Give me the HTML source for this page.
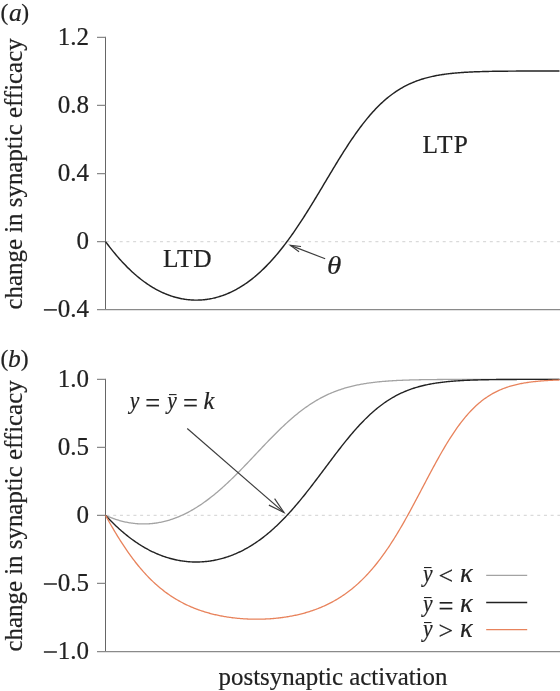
<!DOCTYPE html>
<html><head><meta charset="utf-8"><title>fig</title>
<style>
html,body{margin:0;padding:0;background:#fff;}
svg{display:block;}
text{font-family:"Liberation Serif",serif;fill:#222;stroke:#222;stroke-width:0.2px;}
.it{font-style:italic;}
</style></head><body>
<svg width="560" height="691" viewBox="0 0 560 691" style="will-change:transform">
<rect width="560" height="691" fill="#fff"/>
<!-- panel a -->
<path d="M105.5,36.8 V309.5" fill="none" stroke="#666" stroke-width="1"/>
<g fill="none" stroke="#8a8a8a" stroke-width="1.25">
<path d="M97,309.5 H560"/>
<path d="M97,37.3 H105.5 M97,105.4 H105.5 M97,173.5 H105.5 M97,241.6 H105.5"/>
</g>
<path d="M106.2,241.6 H560" stroke="#dadada" stroke-width="1.2" stroke-dasharray="3,3.73" fill="none"/>
<path d="M105.5,241.60 L106.5,242.94 L107.5,244.26 L108.5,245.56 L109.5,246.86 L110.5,248.13 L111.5,249.39 L112.5,250.64 L113.5,251.87 L114.5,253.08 L115.5,254.28 L116.5,255.46 L117.5,256.62 L118.5,257.77 L119.5,258.91 L120.5,260.02 L121.5,261.12 L122.5,262.21 L123.5,263.28 L124.5,264.33 L125.5,265.36 L126.5,266.38 L127.5,267.39 L128.5,268.37 L129.5,269.34 L130.5,270.30 L131.5,271.24 L132.5,272.16 L133.5,273.07 L134.5,273.95 L135.5,274.83 L136.5,275.69 L137.5,276.53 L138.5,277.35 L139.5,278.16 L140.5,278.96 L141.5,279.74 L142.5,280.50 L143.5,281.25 L144.5,281.98 L145.5,282.69 L146.5,283.39 L147.5,284.08 L148.5,284.75 L149.5,285.40 L150.5,286.04 L151.5,286.66 L152.5,287.27 L153.5,287.87 L154.5,288.45 L155.5,289.01 L156.5,289.56 L157.5,290.10 L158.5,290.62 L159.5,291.12 L160.5,291.61 L161.5,292.09 L162.5,292.55 L163.5,293.00 L164.5,293.43 L165.5,293.85 L166.5,294.26 L167.5,294.65 L168.5,295.03 L169.5,295.39 L170.5,295.74 L171.5,296.08 L172.5,296.40 L173.5,296.71 L174.5,297.00 L175.5,297.29 L176.5,297.55 L177.5,297.81 L178.5,298.05 L179.5,298.28 L180.5,298.49 L181.5,298.69 L182.5,298.88 L183.5,299.05 L184.5,299.21 L185.5,299.36 L186.5,299.50 L187.5,299.62 L188.5,299.72 L189.5,299.82 L190.5,299.90 L191.5,299.97 L192.5,300.03 L193.5,300.07 L194.5,300.10 L195.5,300.11 L196.5,300.12 L197.5,300.11 L198.5,300.08 L199.5,300.05 L200.5,300.00 L201.5,299.94 L202.5,299.86 L203.5,299.77 L204.5,299.67 L205.5,299.56 L206.5,299.43 L207.5,299.29 L208.5,299.13 L209.5,298.97 L210.5,298.79 L211.5,298.59 L212.5,298.39 L213.5,298.16 L214.5,297.93 L215.5,297.68 L216.5,297.42 L217.5,297.15 L218.5,296.86 L219.5,296.56 L220.5,296.24 L221.5,295.91 L222.5,295.57 L223.5,295.21 L224.5,294.84 L225.5,294.46 L226.5,294.06 L227.5,293.65 L228.5,293.22 L229.5,292.78 L230.5,292.32 L231.5,291.85 L232.5,291.37 L233.5,290.87 L234.5,290.36 L235.5,289.83 L236.5,289.29 L237.5,288.73 L238.5,288.16 L239.5,287.57 L240.5,286.97 L241.5,286.35 L242.5,285.72 L243.5,285.08 L244.5,284.41 L245.5,283.74 L246.5,283.04 L247.5,282.34 L248.5,281.61 L249.5,280.87 L250.5,280.12 L251.5,279.35 L252.5,278.56 L253.5,277.76 L254.5,276.94 L255.5,276.11 L256.5,275.26 L257.5,274.39 L258.5,273.51 L259.5,272.61 L260.5,271.70 L261.5,270.77 L262.5,269.82 L263.5,268.86 L264.5,267.88 L265.5,266.89 L266.5,265.88 L267.5,264.85 L268.5,263.80 L269.5,262.74 L270.5,261.67 L271.5,260.58 L272.5,259.47 L273.5,258.34 L274.5,257.20 L275.5,256.04 L276.5,254.87 L277.5,253.68 L278.5,252.48 L279.5,251.25 L280.5,250.02 L281.5,248.76 L282.5,247.50 L283.5,246.21 L284.5,244.91 L285.5,243.60 L286.5,242.27 L287.5,240.93 L288.5,239.57 L289.5,238.19 L290.5,236.81 L291.5,235.40 L292.5,233.99 L293.5,232.56 L294.5,231.12 L295.5,229.66 L296.5,228.19 L297.5,226.71 L298.5,225.21 L299.5,223.71 L300.5,222.19 L301.5,220.66 L302.5,219.12 L303.5,217.57 L304.5,216.00 L305.5,214.43 L306.5,212.85 L307.5,211.26 L308.5,209.66 L309.5,208.05 L310.5,206.43 L311.5,204.81 L312.5,203.18 L313.5,201.54 L314.5,199.90 L315.5,198.25 L316.5,196.59 L317.5,194.93 L318.5,193.27 L319.5,191.60 L320.5,189.93 L321.5,188.26 L322.5,186.59 L323.5,184.91 L324.5,183.23 L325.5,181.56 L326.5,179.88 L327.5,178.20 L328.5,176.53 L329.5,174.86 L330.5,173.19 L331.5,171.52 L332.5,169.86 L333.5,168.20 L334.5,166.54 L335.5,164.89 L336.5,163.25 L337.5,161.62 L338.5,159.99 L339.5,158.37 L340.5,156.75 L341.5,155.15 L342.5,153.56 L343.5,151.97 L344.5,150.40 L345.5,148.84 L346.5,147.28 L347.5,145.75 L348.5,144.22 L349.5,142.71 L350.5,141.21 L351.5,139.72 L352.5,138.25 L353.5,136.79 L354.5,135.35 L355.5,133.92 L356.5,132.51 L357.5,131.11 L358.5,129.74 L359.5,128.37 L360.5,127.03 L361.5,125.70 L362.5,124.39 L363.5,123.10 L364.5,121.83 L365.5,120.58 L366.5,119.34 L367.5,118.12 L368.5,116.92 L369.5,115.75 L370.5,114.59 L371.5,113.44 L372.5,112.32 L373.5,111.22 L374.5,110.14 L375.5,109.08 L376.5,108.03 L377.5,107.01 L378.5,106.01 L379.5,105.02 L380.5,104.06 L381.5,103.11 L382.5,102.19 L383.5,101.28 L384.5,100.39 L385.5,99.52 L386.5,98.67 L387.5,97.84 L388.5,97.03 L389.5,96.24 L390.5,95.46 L391.5,94.71 L392.5,93.97 L393.5,93.25 L394.5,92.54 L395.5,91.86 L396.5,91.19 L397.5,90.54 L398.5,89.90 L399.5,89.28 L400.5,88.68 L401.5,88.09 L402.5,87.52 L403.5,86.97 L404.5,86.43 L405.5,85.90 L406.5,85.39 L407.5,84.89 L408.5,84.41 L409.5,83.94 L410.5,83.49 L411.5,83.05 L412.5,82.62 L413.5,82.21 L414.5,81.80 L415.5,81.41 L416.5,81.03 L417.5,80.67 L418.5,80.31 L419.5,79.97 L420.5,79.64 L421.5,79.31 L422.5,79.00 L423.5,78.70 L424.5,78.41 L425.5,78.12 L426.5,77.85 L427.5,77.59 L428.5,77.33 L429.5,77.09 L430.5,76.85 L431.5,76.62 L432.5,76.40 L433.5,76.18 L434.5,75.98 L435.5,75.78 L436.5,75.58 L437.5,75.40 L438.5,75.22 L439.5,75.05 L440.5,74.88 L441.5,74.72 L442.5,74.57 L443.5,74.42 L444.5,74.28 L445.5,74.14 L446.5,74.01 L447.5,73.88 L448.5,73.76 L449.5,73.64 L450.5,73.53 L451.5,73.42 L452.5,73.32 L453.5,73.22 L454.5,73.12 L455.5,73.03 L456.5,72.94 L457.5,72.85 L458.5,72.77 L459.5,72.69 L460.5,72.62 L461.5,72.54 L462.5,72.47 L463.5,72.41 L464.5,72.34 L465.5,72.28 L466.5,72.23 L467.5,72.17 L468.5,72.12 L469.5,72.06 L470.5,72.01 L471.5,71.97 L472.5,71.92 L473.5,71.88 L474.5,71.84 L475.5,71.80 L476.5,71.76 L477.5,71.72 L478.5,71.69 L479.5,71.66 L480.5,71.63 L481.5,71.60 L482.5,71.57 L483.5,71.54 L484.5,71.51 L485.5,71.49 L486.5,71.46 L487.5,71.44 L488.5,71.42 L489.5,71.40 L490.5,71.38 L491.5,71.36 L492.5,71.34 L493.5,71.32 L494.5,71.31 L495.5,71.29 L496.5,71.28 L497.5,71.26 L498.5,71.25 L499.5,71.24 L500.5,71.23 L501.5,71.21 L502.5,71.20 L503.5,71.19 L504.5,71.18 L505.5,71.17 L506.5,71.16 L507.5,71.16 L508.5,71.15 L509.5,71.14 L510.5,71.13 L511.5,71.12 L512.5,71.12 L513.5,71.11 L514.5,71.11 L515.5,71.10 L516.5,71.09 L517.5,71.09 L518.5,71.08 L519.5,71.08 L520.5,71.08 L521.5,71.07 L522.5,71.07 L523.5,71.06 L524.5,71.06 L525.5,71.06 L526.5,71.05 L527.5,71.05 L528.5,71.05 L529.5,71.05 L530.5,71.04 L531.5,71.04 L532.5,71.04 L533.5,71.04 L534.5,71.03 L535.5,71.03 L536.5,71.03 L537.5,71.03 L538.5,71.03 L539.5,71.03 L540.5,71.02 L541.5,71.02 L542.5,71.02 L543.5,71.02 L544.5,71.02 L545.5,71.02 L546.5,71.02 L547.5,71.02 L548.5,71.01 L549.5,71.01 L550.5,71.01 L551.5,71.01 L552.5,71.01 L553.5,71.01 L554.5,71.01 L555.5,71.01 L556.5,71.01 L557.5,71.01 L558.5,71.01 L559.5,71.01" fill="none" stroke="#222" stroke-width="1.45"/>
<g font-size="25" text-anchor="end">
<text x="89" y="44.8">1.2</text>
<text x="89" y="112.9">0.8</text>
<text x="89" y="181">0.4</text>
<text x="89" y="249.1">0</text>
<text x="89" y="316.8">0.4</text>
</g>
<path d="M43.9,309.9 h13" stroke="#222" stroke-width="1.5"/>
<text x="0.6" y="20.3" font-size="23.5">(</text><text x="8.9" y="21" font-size="25.5" class="it">a</text><text x="21.3" y="20.3" font-size="23.5">)</text>
<text transform="translate(22.4,309.5) rotate(-90)" font-size="24.9">change in synaptic efficacy</text>
<text x="163" y="267" font-size="25.4" letter-spacing="0.8">LTD</text>
<text x="422.5" y="152.9" font-size="25.4" letter-spacing="1.3">LTP</text>
<text x="327" y="273.6" font-size="26" class="it" transform="translate(327 0) scale(1.12 1) translate(-327 0)">θ</text>
<g fill="none" stroke="#3c3c3c" stroke-width="1.15">
<path d="M325.20,258.75 L290.40,245.40"/><path d="M299.06,251.69 L290.40,245.40 L301.04,246.52"/>
</g>
<!-- panel b -->
<path d="M105.5,378.8 V651.5" fill="none" stroke="#666" stroke-width="1"/>
<g fill="none" stroke="#8a8a8a" stroke-width="1.25">
<path d="M97,651.5 H560"/>
<path d="M97,379.3 H105.5 M97,447.3 H105.5 M97,515.35 H105.5 M97,583.4 H105.5"/>
</g>
<path d="M106.5,515.35 H560" stroke="#dadada" stroke-width="1.2" stroke-dasharray="3,3.73" fill="none"/>
<path d="M105.5,515.35 L106.5,515.80 L107.5,516.23 L108.5,516.65 L109.5,517.06 L110.5,517.46 L111.5,517.85 L112.5,518.22 L113.5,518.59 L114.5,518.94 L115.5,519.28 L116.5,519.60 L117.5,519.92 L118.5,520.22 L119.5,520.52 L120.5,520.80 L121.5,521.06 L122.5,521.32 L123.5,521.56 L124.5,521.80 L125.5,522.02 L126.5,522.23 L127.5,522.42 L128.5,522.61 L129.5,522.78 L130.5,522.94 L131.5,523.09 L132.5,523.23 L133.5,523.35 L134.5,523.47 L135.5,523.57 L136.5,523.66 L137.5,523.74 L138.5,523.81 L139.5,523.86 L140.5,523.90 L141.5,523.94 L142.5,523.95 L143.5,523.96 L144.5,523.96 L145.5,523.94 L146.5,523.91 L147.5,523.87 L148.5,523.82 L149.5,523.76 L150.5,523.69 L151.5,523.60 L152.5,523.50 L153.5,523.39 L154.5,523.27 L155.5,523.13 L156.5,522.99 L157.5,522.83 L158.5,522.66 L159.5,522.48 L160.5,522.29 L161.5,522.08 L162.5,521.86 L163.5,521.63 L164.5,521.39 L165.5,521.14 L166.5,520.88 L167.5,520.60 L168.5,520.31 L169.5,520.01 L170.5,519.70 L171.5,519.38 L172.5,519.04 L173.5,518.69 L174.5,518.33 L175.5,517.96 L176.5,517.58 L177.5,517.18 L178.5,516.78 L179.5,516.36 L180.5,515.93 L181.5,515.49 L182.5,515.03 L183.5,514.56 L184.5,514.09 L185.5,513.60 L186.5,513.09 L187.5,512.58 L188.5,512.06 L189.5,511.52 L190.5,510.97 L191.5,510.41 L192.5,509.84 L193.5,509.25 L194.5,508.66 L195.5,508.05 L196.5,507.43 L197.5,506.80 L198.5,506.16 L199.5,505.51 L200.5,504.84 L201.5,504.17 L202.5,503.48 L203.5,502.79 L204.5,502.08 L205.5,501.36 L206.5,500.63 L207.5,499.88 L208.5,499.13 L209.5,498.37 L210.5,497.60 L211.5,496.81 L212.5,496.02 L213.5,495.21 L214.5,494.40 L215.5,493.57 L216.5,492.74 L217.5,491.89 L218.5,491.04 L219.5,490.18 L220.5,489.30 L221.5,488.42 L222.5,487.53 L223.5,486.63 L224.5,485.72 L225.5,484.81 L226.5,483.88 L227.5,482.95 L228.5,482.01 L229.5,481.06 L230.5,480.10 L231.5,479.14 L232.5,478.17 L233.5,477.19 L234.5,476.21 L235.5,475.22 L236.5,474.22 L237.5,473.22 L238.5,472.21 L239.5,471.19 L240.5,470.18 L241.5,469.15 L242.5,468.12 L243.5,467.09 L244.5,466.06 L245.5,465.02 L246.5,463.97 L247.5,462.93 L248.5,461.88 L249.5,460.83 L250.5,459.77 L251.5,458.72 L252.5,457.66 L253.5,456.60 L254.5,455.54 L255.5,454.48 L256.5,453.42 L257.5,452.36 L258.5,451.30 L259.5,450.24 L260.5,449.19 L261.5,448.13 L262.5,447.07 L263.5,446.02 L264.5,444.97 L265.5,443.92 L266.5,442.88 L267.5,441.84 L268.5,440.80 L269.5,439.77 L270.5,438.74 L271.5,437.72 L272.5,436.70 L273.5,435.69 L274.5,434.68 L275.5,433.68 L276.5,432.68 L277.5,431.69 L278.5,430.71 L279.5,429.73 L280.5,428.76 L281.5,427.80 L282.5,426.85 L283.5,425.91 L284.5,424.97 L285.5,424.04 L286.5,423.12 L287.5,422.21 L288.5,421.31 L289.5,420.42 L290.5,419.54 L291.5,418.67 L292.5,417.81 L293.5,416.96 L294.5,416.11 L295.5,415.28 L296.5,414.46 L297.5,413.65 L298.5,412.86 L299.5,412.07 L300.5,411.29 L301.5,410.53 L302.5,409.77 L303.5,409.03 L304.5,408.30 L305.5,407.58 L306.5,406.87 L307.5,406.18 L308.5,405.49 L309.5,404.82 L310.5,404.16 L311.5,403.51 L312.5,402.87 L313.5,402.24 L314.5,401.63 L315.5,401.03 L316.5,400.43 L317.5,399.85 L318.5,399.29 L319.5,398.73 L320.5,398.18 L321.5,397.65 L322.5,397.12 L323.5,396.61 L324.5,396.11 L325.5,395.62 L326.5,395.14 L327.5,394.67 L328.5,394.21 L329.5,393.77 L330.5,393.33 L331.5,392.90 L332.5,392.49 L333.5,392.08 L334.5,391.68 L335.5,391.30 L336.5,390.92 L337.5,390.55 L338.5,390.19 L339.5,389.85 L340.5,389.51 L341.5,389.17 L342.5,388.85 L343.5,388.54 L344.5,388.23 L345.5,387.94 L346.5,387.65 L347.5,387.37 L348.5,387.10 L349.5,386.83 L350.5,386.57 L351.5,386.32 L352.5,386.08 L353.5,385.85 L354.5,385.62 L355.5,385.40 L356.5,385.18 L357.5,384.97 L358.5,384.77 L359.5,384.57 L360.5,384.38 L361.5,384.20 L362.5,384.02 L363.5,383.85 L364.5,383.68 L365.5,383.52 L366.5,383.37 L367.5,383.21 L368.5,383.07 L369.5,382.93 L370.5,382.79 L371.5,382.66 L372.5,382.53 L373.5,382.41 L374.5,382.29 L375.5,382.17 L376.5,382.06 L377.5,381.96 L378.5,381.85 L379.5,381.75 L380.5,381.66 L381.5,381.56 L382.5,381.47 L383.5,381.39 L384.5,381.31 L385.5,381.23 L386.5,381.15 L387.5,381.07 L388.5,381.00 L389.5,380.93 L390.5,380.87 L391.5,380.80 L392.5,380.74 L393.5,380.68 L394.5,380.63 L395.5,380.57 L396.5,380.52 L397.5,380.47 L398.5,380.42 L399.5,380.38 L400.5,380.33 L401.5,380.29 L402.5,380.25 L403.5,380.21 L404.5,380.17 L405.5,380.13 L406.5,380.10 L407.5,380.06 L408.5,380.03 L409.5,380.00 L410.5,379.97 L411.5,379.94 L412.5,379.92 L413.5,379.89 L414.5,379.87 L415.5,379.84 L416.5,379.82 L417.5,379.80 L418.5,379.78 L419.5,379.76 L420.5,379.74 L421.5,379.72 L422.5,379.70 L423.5,379.69 L424.5,379.67 L425.5,379.65 L426.5,379.64 L427.5,379.63 L428.5,379.61 L429.5,379.60 L430.5,379.59 L431.5,379.58 L432.5,379.56 L433.5,379.55 L434.5,379.54 L435.5,379.53 L436.5,379.53 L437.5,379.52 L438.5,379.51 L439.5,379.50 L440.5,379.49 L441.5,379.49 L442.5,379.48 L443.5,379.47 L444.5,379.47 L445.5,379.46 L446.5,379.45 L447.5,379.45 L448.5,379.44 L449.5,379.44 L450.5,379.43 L451.5,379.43 L452.5,379.43 L453.5,379.42 L454.5,379.42 L455.5,379.41 L456.5,379.41 L457.5,379.41 L458.5,379.40 L459.5,379.40 L460.5,379.40 L461.5,379.40 L462.5,379.39 L463.5,379.39 L464.5,379.39 L465.5,379.39 L466.5,379.39 L467.5,379.38 L468.5,379.38 L469.5,379.38 L470.5,379.38 L471.5,379.38 L472.5,379.37 L473.5,379.37 L474.5,379.37 L475.5,379.37 L476.5,379.37 L477.5,379.37 L478.5,379.37 L479.5,379.37 L480.5,379.37 L481.5,379.36 L482.5,379.36 L483.5,379.36 L484.5,379.36 L485.5,379.36 L486.5,379.36 L487.5,379.36 L488.5,379.36 L489.5,379.36 L490.5,379.36 L491.5,379.36 L492.5,379.36 L493.5,379.36 L494.5,379.36 L495.5,379.36 L496.5,379.36 L497.5,379.36 L498.5,379.36 L499.5,379.35 L500.5,379.35 L501.5,379.35 L502.5,379.35 L503.5,379.35 L504.5,379.35 L505.5,379.35 L506.5,379.35 L507.5,379.35 L508.5,379.35 L509.5,379.35 L510.5,379.35 L511.5,379.35 L512.5,379.35 L513.5,379.35 L514.5,379.35 L515.5,379.35 L516.5,379.35 L517.5,379.35 L518.5,379.35 L519.5,379.35 L520.5,379.35 L521.5,379.35 L522.5,379.35 L523.5,379.35 L524.5,379.35 L525.5,379.35 L526.5,379.35 L527.5,379.35 L528.5,379.35 L529.5,379.35 L530.5,379.35 L531.5,379.35 L532.5,379.35 L533.5,379.35 L534.5,379.35 L535.5,379.35 L536.5,379.35 L537.5,379.35 L538.5,379.35 L539.5,379.35 L540.5,379.35 L541.5,379.35 L542.5,379.35 L543.5,379.35 L544.5,379.35 L545.5,379.35 L546.5,379.35 L547.5,379.35 L548.5,379.35 L549.5,379.35 L550.5,379.35 L551.5,379.35 L552.5,379.35 L553.5,379.35 L554.5,379.35 L555.5,379.35 L556.5,379.35 L557.5,379.35 L558.5,379.35 L559.5,379.35" fill="none" stroke="#a3a3a3" stroke-width="1.3"/>
<path d="M105.5,515.35 L106.5,516.42 L107.5,517.47 L108.5,518.51 L109.5,519.54 L110.5,520.56 L111.5,521.56 L112.5,522.55 L113.5,523.53 L114.5,524.50 L115.5,525.46 L116.5,526.40 L117.5,527.33 L118.5,528.24 L119.5,529.15 L120.5,530.04 L121.5,530.91 L122.5,531.78 L123.5,532.63 L124.5,533.47 L125.5,534.29 L126.5,535.11 L127.5,535.91 L128.5,536.69 L129.5,537.47 L130.5,538.23 L131.5,538.98 L132.5,539.71 L133.5,540.43 L134.5,541.14 L135.5,541.84 L136.5,542.52 L137.5,543.19 L138.5,543.85 L139.5,544.50 L140.5,545.13 L141.5,545.75 L142.5,546.36 L143.5,546.95 L144.5,547.54 L145.5,548.11 L146.5,548.67 L147.5,549.21 L148.5,549.75 L149.5,550.27 L150.5,550.78 L151.5,551.28 L152.5,551.76 L153.5,552.23 L154.5,552.70 L155.5,553.15 L156.5,553.58 L157.5,554.01 L158.5,554.43 L159.5,554.83 L160.5,555.22 L161.5,555.60 L162.5,555.97 L163.5,556.33 L164.5,556.67 L165.5,557.01 L166.5,557.33 L167.5,557.64 L168.5,557.94 L169.5,558.23 L170.5,558.51 L171.5,558.78 L172.5,559.04 L173.5,559.28 L174.5,559.52 L175.5,559.74 L176.5,559.96 L177.5,560.16 L178.5,560.35 L179.5,560.53 L180.5,560.70 L181.5,560.86 L182.5,561.01 L183.5,561.15 L184.5,561.28 L185.5,561.40 L186.5,561.50 L187.5,561.60 L188.5,561.69 L189.5,561.76 L190.5,561.83 L191.5,561.88 L192.5,561.93 L193.5,561.96 L194.5,561.98 L195.5,562.00 L196.5,562.00 L197.5,561.99 L198.5,561.97 L199.5,561.94 L200.5,561.91 L201.5,561.86 L202.5,561.80 L203.5,561.73 L204.5,561.64 L205.5,561.55 L206.5,561.45 L207.5,561.34 L208.5,561.22 L209.5,561.08 L210.5,560.94 L211.5,560.78 L212.5,560.62 L213.5,560.44 L214.5,560.26 L215.5,560.06 L216.5,559.85 L217.5,559.63 L218.5,559.40 L219.5,559.16 L220.5,558.91 L221.5,558.65 L222.5,558.37 L223.5,558.09 L224.5,557.79 L225.5,557.49 L226.5,557.17 L227.5,556.84 L228.5,556.50 L229.5,556.15 L230.5,555.79 L231.5,555.41 L232.5,555.03 L233.5,554.63 L234.5,554.22 L235.5,553.80 L236.5,553.37 L237.5,552.92 L238.5,552.47 L239.5,552.00 L240.5,551.52 L241.5,551.03 L242.5,550.52 L243.5,550.01 L244.5,549.48 L245.5,548.94 L246.5,548.39 L247.5,547.82 L248.5,547.25 L249.5,546.66 L250.5,546.06 L251.5,545.44 L252.5,544.82 L253.5,544.18 L254.5,543.52 L255.5,542.86 L256.5,542.18 L257.5,541.49 L258.5,540.79 L259.5,540.07 L260.5,539.35 L261.5,538.60 L262.5,537.85 L263.5,537.08 L264.5,536.30 L265.5,535.51 L266.5,534.70 L267.5,533.88 L268.5,533.05 L269.5,532.21 L270.5,531.35 L271.5,530.48 L272.5,529.59 L273.5,528.70 L274.5,527.79 L275.5,526.86 L276.5,525.93 L277.5,524.98 L278.5,524.02 L279.5,523.05 L280.5,522.06 L281.5,521.06 L282.5,520.05 L283.5,519.03 L284.5,517.99 L285.5,516.94 L286.5,515.88 L287.5,514.81 L288.5,513.73 L289.5,512.63 L290.5,511.53 L291.5,510.41 L292.5,509.28 L293.5,508.14 L294.5,506.99 L295.5,505.83 L296.5,504.66 L297.5,503.48 L298.5,502.29 L299.5,501.09 L300.5,499.88 L301.5,498.66 L302.5,497.43 L303.5,496.19 L304.5,494.95 L305.5,493.69 L306.5,492.43 L307.5,491.16 L308.5,489.89 L309.5,488.61 L310.5,487.32 L311.5,486.02 L312.5,484.72 L313.5,483.42 L314.5,482.11 L315.5,480.79 L316.5,479.47 L317.5,478.15 L318.5,476.82 L319.5,475.49 L320.5,474.16 L321.5,472.83 L322.5,471.49 L323.5,470.16 L324.5,468.82 L325.5,467.48 L326.5,466.15 L327.5,464.81 L328.5,463.48 L329.5,462.14 L330.5,460.81 L331.5,459.48 L332.5,458.16 L333.5,456.83 L334.5,455.52 L335.5,454.20 L336.5,452.89 L337.5,451.59 L338.5,450.29 L339.5,449.00 L340.5,447.71 L341.5,446.43 L342.5,445.16 L343.5,443.90 L344.5,442.65 L345.5,441.40 L346.5,440.16 L347.5,438.94 L348.5,437.72 L349.5,436.51 L350.5,435.32 L351.5,434.13 L352.5,432.96 L353.5,431.80 L354.5,430.65 L355.5,429.51 L356.5,428.38 L357.5,427.27 L358.5,426.17 L359.5,425.09 L360.5,424.02 L361.5,422.96 L362.5,421.92 L363.5,420.89 L364.5,419.87 L365.5,418.87 L366.5,417.89 L367.5,416.92 L368.5,415.96 L369.5,415.02 L370.5,414.10 L371.5,413.19 L372.5,412.29 L373.5,411.41 L374.5,410.55 L375.5,409.70 L376.5,408.87 L377.5,408.06 L378.5,407.26 L379.5,406.47 L380.5,405.70 L381.5,404.95 L382.5,404.21 L383.5,403.49 L384.5,402.78 L385.5,402.09 L386.5,401.41 L387.5,400.75 L388.5,400.10 L389.5,399.47 L390.5,398.85 L391.5,398.25 L392.5,397.66 L393.5,397.08 L394.5,396.52 L395.5,395.98 L396.5,395.44 L397.5,394.92 L398.5,394.42 L399.5,393.92 L400.5,393.44 L401.5,392.98 L402.5,392.52 L403.5,392.08 L404.5,391.65 L405.5,391.23 L406.5,390.82 L407.5,390.43 L408.5,390.04 L409.5,389.67 L410.5,389.31 L411.5,388.96 L412.5,388.61 L413.5,388.28 L414.5,387.96 L415.5,387.65 L416.5,387.35 L417.5,387.06 L418.5,386.77 L419.5,386.50 L420.5,386.23 L421.5,385.98 L422.5,385.73 L423.5,385.49 L424.5,385.25 L425.5,385.03 L426.5,384.81 L427.5,384.60 L428.5,384.40 L429.5,384.20 L430.5,384.01 L431.5,383.83 L432.5,383.65 L433.5,383.48 L434.5,383.32 L435.5,383.16 L436.5,383.01 L437.5,382.86 L438.5,382.71 L439.5,382.58 L440.5,382.45 L441.5,382.32 L442.5,382.20 L443.5,382.08 L444.5,381.96 L445.5,381.85 L446.5,381.75 L447.5,381.65 L448.5,381.55 L449.5,381.46 L450.5,381.37 L451.5,381.28 L452.5,381.20 L453.5,381.12 L454.5,381.04 L455.5,380.97 L456.5,380.89 L457.5,380.83 L458.5,380.76 L459.5,380.70 L460.5,380.64 L461.5,380.58 L462.5,380.53 L463.5,380.47 L464.5,380.42 L465.5,380.37 L466.5,380.33 L467.5,380.28 L468.5,380.24 L469.5,380.20 L470.5,380.16 L471.5,380.12 L472.5,380.09 L473.5,380.05 L474.5,380.02 L475.5,379.99 L476.5,379.96 L477.5,379.93 L478.5,379.90 L479.5,379.87 L480.5,379.85 L481.5,379.82 L482.5,379.80 L483.5,379.78 L484.5,379.76 L485.5,379.74 L486.5,379.72 L487.5,379.70 L488.5,379.68 L489.5,379.67 L490.5,379.65 L491.5,379.64 L492.5,379.62 L493.5,379.61 L494.5,379.60 L495.5,379.58 L496.5,379.57 L497.5,379.56 L498.5,379.55 L499.5,379.54 L500.5,379.53 L501.5,379.52 L502.5,379.51 L503.5,379.50 L504.5,379.50 L505.5,379.49 L506.5,379.48 L507.5,379.47 L508.5,379.47 L509.5,379.46 L510.5,379.46 L511.5,379.45 L512.5,379.44 L513.5,379.44 L514.5,379.43 L515.5,379.43 L516.5,379.43 L517.5,379.42 L518.5,379.42 L519.5,379.41 L520.5,379.41 L521.5,379.41 L522.5,379.40 L523.5,379.40 L524.5,379.40 L525.5,379.40 L526.5,379.39 L527.5,379.39 L528.5,379.39 L529.5,379.39 L530.5,379.38 L531.5,379.38 L532.5,379.38 L533.5,379.38 L534.5,379.38 L535.5,379.38 L536.5,379.37 L537.5,379.37 L538.5,379.37 L539.5,379.37 L540.5,379.37 L541.5,379.37 L542.5,379.37 L543.5,379.37 L544.5,379.36 L545.5,379.36 L546.5,379.36 L547.5,379.36 L548.5,379.36 L549.5,379.36 L550.5,379.36 L551.5,379.36 L552.5,379.36 L553.5,379.36 L554.5,379.36 L555.5,379.36 L556.5,379.36 L557.5,379.36 L558.5,379.36 L559.5,379.36" fill="none" stroke="#222" stroke-width="1.4"/>
<path d="M105.5,515.35 L106.5,517.15 L107.5,518.94 L108.5,520.72 L109.5,522.48 L110.5,524.23 L111.5,525.97 L112.5,527.69 L113.5,529.39 L114.5,531.08 L115.5,532.75 L116.5,534.40 L117.5,536.04 L118.5,537.65 L119.5,539.25 L120.5,540.84 L121.5,542.40 L122.5,543.94 L123.5,545.47 L124.5,546.97 L125.5,548.46 L126.5,549.93 L127.5,551.37 L128.5,552.80 L129.5,554.21 L130.5,555.60 L131.5,556.96 L132.5,558.31 L133.5,559.64 L134.5,560.95 L135.5,562.23 L136.5,563.50 L137.5,564.75 L138.5,565.98 L139.5,567.19 L140.5,568.37 L141.5,569.54 L142.5,570.69 L143.5,571.82 L144.5,572.93 L145.5,574.03 L146.5,575.10 L147.5,576.15 L148.5,577.19 L149.5,578.21 L150.5,579.21 L151.5,580.19 L152.5,581.15 L153.5,582.10 L154.5,583.03 L155.5,583.94 L156.5,584.83 L157.5,585.71 L158.5,586.57 L159.5,587.41 L160.5,588.24 L161.5,589.05 L162.5,589.85 L163.5,590.63 L164.5,591.40 L165.5,592.15 L166.5,592.88 L167.5,593.60 L168.5,594.31 L169.5,595.00 L170.5,595.68 L171.5,596.34 L172.5,596.99 L173.5,597.63 L174.5,598.26 L175.5,598.87 L176.5,599.47 L177.5,600.05 L178.5,600.63 L179.5,601.19 L180.5,601.74 L181.5,602.27 L182.5,602.80 L183.5,603.32 L184.5,603.82 L185.5,604.31 L186.5,604.79 L187.5,605.26 L188.5,605.72 L189.5,606.17 L190.5,606.61 L191.5,607.04 L192.5,607.46 L193.5,607.88 L194.5,608.28 L195.5,608.67 L196.5,609.05 L197.5,609.42 L198.5,609.79 L199.5,610.14 L200.5,610.49 L201.5,610.83 L202.5,611.16 L203.5,611.48 L204.5,611.80 L205.5,612.10 L206.5,612.40 L207.5,612.69 L208.5,612.98 L209.5,613.25 L210.5,613.52 L211.5,613.78 L212.5,614.03 L213.5,614.28 L214.5,614.52 L215.5,614.75 L216.5,614.98 L217.5,615.20 L218.5,615.41 L219.5,615.62 L220.5,615.81 L221.5,616.01 L222.5,616.19 L223.5,616.38 L224.5,616.55 L225.5,616.72 L226.5,616.88 L227.5,617.04 L228.5,617.19 L229.5,617.33 L230.5,617.47 L231.5,617.61 L232.5,617.73 L233.5,617.86 L234.5,617.97 L235.5,618.08 L236.5,618.19 L237.5,618.29 L238.5,618.38 L239.5,618.47 L240.5,618.56 L241.5,618.64 L242.5,618.71 L243.5,618.78 L244.5,618.84 L245.5,618.90 L246.5,618.96 L247.5,619.00 L248.5,619.05 L249.5,619.09 L250.5,619.12 L251.5,619.15 L252.5,619.17 L253.5,619.19 L254.5,619.20 L255.5,619.21 L256.5,619.21 L257.5,619.21 L258.5,619.20 L259.5,619.19 L260.5,619.17 L261.5,619.15 L262.5,619.12 L263.5,619.09 L264.5,619.06 L265.5,619.01 L266.5,618.97 L267.5,618.91 L268.5,618.86 L269.5,618.79 L270.5,618.73 L271.5,618.65 L272.5,618.58 L273.5,618.49 L274.5,618.40 L275.5,618.31 L276.5,618.21 L277.5,618.11 L278.5,618.00 L279.5,617.88 L280.5,617.76 L281.5,617.63 L282.5,617.50 L283.5,617.36 L284.5,617.22 L285.5,617.07 L286.5,616.91 L287.5,616.75 L288.5,616.58 L289.5,616.41 L290.5,616.23 L291.5,616.05 L292.5,615.85 L293.5,615.66 L294.5,615.45 L295.5,615.24 L296.5,615.02 L297.5,614.80 L298.5,614.57 L299.5,614.33 L300.5,614.08 L301.5,613.83 L302.5,613.57 L303.5,613.30 L304.5,613.03 L305.5,612.75 L306.5,612.46 L307.5,612.16 L308.5,611.86 L309.5,611.55 L310.5,611.23 L311.5,610.90 L312.5,610.56 L313.5,610.21 L314.5,609.86 L315.5,609.50 L316.5,609.13 L317.5,608.75 L318.5,608.36 L319.5,607.96 L320.5,607.55 L321.5,607.13 L322.5,606.70 L323.5,606.26 L324.5,605.82 L325.5,605.36 L326.5,604.89 L327.5,604.41 L328.5,603.92 L329.5,603.42 L330.5,602.90 L331.5,602.38 L332.5,601.85 L333.5,601.30 L334.5,600.74 L335.5,600.17 L336.5,599.58 L337.5,598.99 L338.5,598.38 L339.5,597.76 L340.5,597.12 L341.5,596.48 L342.5,595.81 L343.5,595.14 L344.5,594.45 L345.5,593.75 L346.5,593.03 L347.5,592.29 L348.5,591.55 L349.5,590.79 L350.5,590.01 L351.5,589.21 L352.5,588.41 L353.5,587.58 L354.5,586.74 L355.5,585.88 L356.5,585.01 L357.5,584.12 L358.5,583.21 L359.5,582.28 L360.5,581.34 L361.5,580.38 L362.5,579.40 L363.5,578.41 L364.5,577.39 L365.5,576.36 L366.5,575.31 L367.5,574.24 L368.5,573.15 L369.5,572.05 L370.5,570.92 L371.5,569.77 L372.5,568.61 L373.5,567.42 L374.5,566.22 L375.5,565.00 L376.5,563.75 L377.5,562.49 L378.5,561.21 L379.5,559.90 L380.5,558.58 L381.5,557.23 L382.5,555.87 L383.5,554.49 L384.5,553.08 L385.5,551.66 L386.5,550.22 L387.5,548.75 L388.5,547.27 L389.5,545.77 L390.5,544.25 L391.5,542.71 L392.5,541.15 L393.5,539.57 L394.5,537.98 L395.5,536.36 L396.5,534.73 L397.5,533.08 L398.5,531.41 L399.5,529.73 L400.5,528.03 L401.5,526.31 L402.5,524.58 L403.5,522.84 L404.5,521.07 L405.5,519.30 L406.5,517.51 L407.5,515.71 L408.5,513.90 L409.5,512.07 L410.5,510.24 L411.5,508.39 L412.5,506.54 L413.5,504.68 L414.5,502.81 L415.5,500.93 L416.5,499.04 L417.5,497.16 L418.5,495.26 L419.5,493.36 L420.5,491.46 L421.5,489.56 L422.5,487.66 L423.5,485.75 L424.5,483.85 L425.5,481.95 L426.5,480.05 L427.5,478.15 L428.5,476.26 L429.5,474.38 L430.5,472.50 L431.5,470.63 L432.5,468.76 L433.5,466.91 L434.5,465.07 L435.5,463.23 L436.5,461.41 L437.5,459.60 L438.5,457.81 L439.5,456.03 L440.5,454.26 L441.5,452.51 L442.5,450.78 L443.5,449.06 L444.5,447.37 L445.5,445.69 L446.5,444.03 L447.5,442.39 L448.5,440.77 L449.5,439.18 L450.5,437.60 L451.5,436.05 L452.5,434.52 L453.5,433.02 L454.5,431.54 L455.5,430.08 L456.5,428.65 L457.5,427.24 L458.5,425.86 L459.5,424.50 L460.5,423.17 L461.5,421.86 L462.5,420.58 L463.5,419.32 L464.5,418.09 L465.5,416.89 L466.5,415.71 L467.5,414.56 L468.5,413.44 L469.5,412.34 L470.5,411.26 L471.5,410.21 L472.5,409.19 L473.5,408.19 L474.5,407.22 L475.5,406.28 L476.5,405.35 L477.5,404.45 L478.5,403.58 L479.5,402.73 L480.5,401.90 L481.5,401.10 L482.5,400.32 L483.5,399.56 L484.5,398.82 L485.5,398.11 L486.5,397.41 L487.5,396.74 L488.5,396.09 L489.5,395.46 L490.5,394.85 L491.5,394.26 L492.5,393.68 L493.5,393.13 L494.5,392.59 L495.5,392.07 L496.5,391.57 L497.5,391.09 L498.5,390.62 L499.5,390.17 L500.5,389.73 L501.5,389.31 L502.5,388.90 L503.5,388.51 L504.5,388.13 L505.5,387.77 L506.5,387.42 L507.5,387.08 L508.5,386.75 L509.5,386.44 L510.5,386.14 L511.5,385.85 L512.5,385.57 L513.5,385.30 L514.5,385.04 L515.5,384.79 L516.5,384.56 L517.5,384.33 L518.5,384.11 L519.5,383.90 L520.5,383.69 L521.5,383.50 L522.5,383.31 L523.5,383.13 L524.5,382.96 L525.5,382.80 L526.5,382.64 L527.5,382.49 L528.5,382.34 L529.5,382.20 L530.5,382.07 L531.5,381.94 L532.5,381.82 L533.5,381.71 L534.5,381.59 L535.5,381.49 L536.5,381.39 L537.5,381.29 L538.5,381.20 L539.5,381.11 L540.5,381.02 L541.5,380.94 L542.5,380.86 L543.5,380.79 L544.5,380.72 L545.5,380.65 L546.5,380.59 L547.5,380.53 L548.5,380.47 L549.5,380.41 L550.5,380.36 L551.5,380.31 L552.5,380.26 L553.5,380.21 L554.5,380.17 L555.5,380.13 L556.5,380.09 L557.5,380.05 L558.5,380.01 L559.5,379.98" fill="none" stroke="#e8835c" stroke-width="1.3"/>
<g font-size="25" text-anchor="end">
<text x="89" y="386.8">1.0</text>
<text x="89" y="454.8">0.5</text>
<text x="89" y="522.9">0</text>
<text x="89" y="590.9">0.5</text>
<text x="89" y="658.9">1.0</text>
</g>
<path d="M43.9,584 h13 M43.9,652 h13" stroke="#222" stroke-width="1.5"/>
<text x="0.4" y="366.1" font-size="23.5">(</text><text x="8.0" y="366.8" font-size="25.5" class="it">b</text><text x="20.8" y="366.1" font-size="23.5">)</text>
<text transform="translate(22.4,651.5) rotate(-90)" font-size="24.9">change in synaptic efficacy</text>
<text x="218.6" y="685" font-size="24.9">postsynaptic activation</text>
<!-- y = ybar = k -->
<text x="129.8" y="408.8" font-size="24.5" class="it" transform="translate(129.8 0) scale(0.88 1) translate(-129.8 0)">y</text>
<text x="145.2" y="412.2" font-size="26.5" stroke="#222" stroke-width="0.35">=</text>
<text x="167.3" y="408.8" font-size="24.5" class="it" transform="translate(167.3 0) scale(0.88 1) translate(-167.3 0)">y</text>
<path d="M169,394.6 h7.5" stroke="#222" stroke-width="1.1"/>
<text x="183.1" y="412.2" font-size="26.5" stroke="#222" stroke-width="0.35">=</text>
<text x="203.5" y="408.8" font-size="24.5" class="it">k</text>
<g fill="none" stroke="#3c3c3c" stroke-width="1.15">
<path d="M187.25,428.50 L284.00,512.50"/><path d="M274.60,498.58 L284.00,512.50 L268.90,505.14"/>
</g>
<!-- legend -->
<text x="423.10" y="581.75" font-size="24.5" class="it" transform="translate(423.10 0) scale(0.88 1) translate(-423.10 0)">y</text><path d="M424.00,567.55 h7.5" stroke="#222" stroke-width="1.1"/><text x="438.60" y="584.10" font-size="26" stroke="#222" stroke-width="0.35">&lt;</text><text x="459.90" y="581.75" font-size="26.5" class="it">κ</text>
<text x="423.10" y="611.75" font-size="24.5" class="it" transform="translate(423.10 0) scale(0.88 1) translate(-423.10 0)">y</text><path d="M424.00,597.55 h7.5" stroke="#222" stroke-width="1.1"/><text x="438.60" y="614.80" font-size="26.5" stroke="#222" stroke-width="0.35">=</text><text x="459.90" y="611.75" font-size="26.5" class="it">κ</text>
<text x="423.10" y="636.75" font-size="24.5" class="it" transform="translate(423.10 0) scale(0.88 1) translate(-423.10 0)">y</text><path d="M424.00,622.55 h7.5" stroke="#222" stroke-width="1.1"/><text x="438.60" y="639.10" font-size="26" stroke="#222" stroke-width="0.35">&gt;</text><text x="459.90" y="636.75" font-size="26.5" class="it">κ</text>
<path d="M486.2,575.4 H527.2" stroke="#a3a3a3" stroke-width="1.3"/>
<path d="M486.2,602.6 H527.2" stroke="#222" stroke-width="1.5"/>
<path d="M486.2,629.7 H527.2" stroke="#e8835c" stroke-width="1.3"/>
</svg>
</body></html>
